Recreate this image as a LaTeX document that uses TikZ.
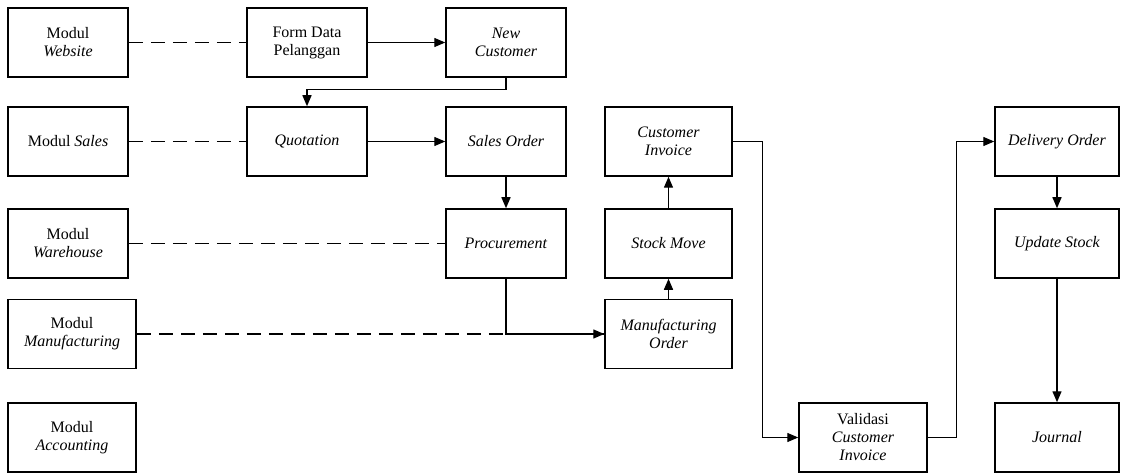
\documentclass[tikz,border=0pt]{standalone}
\usepackage{fontspec}
\setmainfont{Liberation Serif}
\usetikzlibrary{arrows.meta, positioning}

\begin{document}
\begin{tikzpicture}[
    x=1pt, y=-1pt,
    box/.style={draw, line width=1.5pt, align=center, inner sep=0pt,
                minimum height=69pt, font=\fontsize{16}{18}\selectfont},
    dashline/.style={line width=1.4pt, dash pattern=on 14pt off 8pt},
    flow/.style={line width=1.4pt, ->},
    >={Triangle[length=11pt, width=9pt]}
  ]
  \useasboundingbox (0,0) rectangle (1121,473);

  % modul
  \node[box, minimum width=120pt] (modweb)   at (68,42.5)  {Modul\\\textit{Website}};
  \node[box, minimum width=120pt] (modsales) at (68,141.5) {Modul \textit{Sales}};
  \node[box, minimum width=120pt] (modwh)    at (68,243.5) {Modul\\\textit{Warehouse}};
  \node[box, minimum width=128pt] (modmfg)   at (72,334)   {Modul\\\textit{Manufacturing}};
  \node[box, minimum width=128pt] (modacc)   at (72,437.5) {Modul\\\textit{Accounting}};

  % proses
  \node[box, minimum width=120pt] (formdata)   at (307,42.5)  {Form Data\\Pelanggan};
  \node[box, minimum width=120pt] (quotation)  at (307,141.5) {\textit{Quotation}};
  \node[box, minimum width=120pt] (newcust)    at (506,42.5)  {\textit{New}\\\textit{Customer}};
  \node[box, minimum width=120pt] (salesorder) at (506,141.5) {\textit{Sales Order}};
  \node[box, minimum width=120pt] (procure)    at (506,243.5) {\textit{Procurement}};
  \node[box, minimum width=127pt] (custinv)    at (668.5,141.5) {\textit{Customer}\\\textit{Invoice}};
  \node[box, minimum width=127pt] (stockmove)  at (668.5,243.5) {\textit{Stock Move}};
  \node[box, minimum width=127pt] (mfgorder)   at (668.5,334)   {\textit{Manufacturing}\\\textit{Order}};
  \node[box, minimum width=128pt] (validasi)   at (863,437.5) {Validasi\\\textit{Customer}\\\textit{Invoice}};
  \node[box, minimum width=124pt] (delivery)   at (1057,141.5) {\textit{Delivery Order}};
  \node[box, minimum width=124pt] (updstock)   at (1057,243.5) {\textit{Update Stock}};
  \node[box, minimum width=124pt] (journal)    at (1057,437.5) {\textit{Journal}};

  \draw[dashline] (modweb) -- (formdata);
  \draw[dashline] (modsales) -- (quotation);
  \draw[dashline] (modwh) -- (procure);
  \draw[dashline] (modmfg) -- (mfgorder);

  \draw[flow] (formdata) -- (newcust);
  \draw[flow] (newcust.south) -- ++(0,12) -| (quotation.north);
  \draw[flow] (quotation) -- (salesorder);
  \draw[flow] (salesorder) -- (procure);
  \draw[flow] (procure.south) |- (mfgorder.west);
  \draw[flow] (mfgorder) -- (stockmove);
  \draw[flow] (stockmove) -- (custinv);
  \draw[flow] (custinv.east) -- ++(30,0) |- (validasi.west);
  \draw[flow] (validasi.east) -- ++(29,0) |- (delivery.west);
  \draw[flow] (delivery) -- (updstock);
  \draw[flow] (updstock) -- (journal);
\end{tikzpicture}
\end{document}
